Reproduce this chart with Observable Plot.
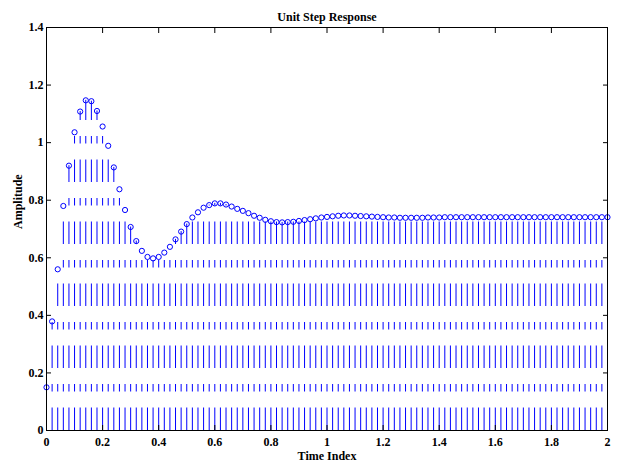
<!DOCTYPE html>
<html>
<head>
<meta charset="utf-8">
<script src="https://cdn.jsdelivr.net/npm/d3@7"></script>
<script src="https://cdn.jsdelivr.net/npm/@observablehq/plot@0.6"></script>
<style>
  html, body { margin: 0; padding: 0; background: #fff; }
  #chart svg text { font-family: 'Liberation Serif', 'Times New Roman', serif; font-weight: bold; font-variant-numeric: normal; }
</style>
</head>
<body>
<div id="chart"></div>
<script>
const title = "Unit Step Response";
const xLabel = "Time Index";
const yLabel = "Amplitude";

const xTicks = [0, 0.2, 0.4, 0.6, 0.8, 1, 1.2, 1.4, 1.6, 1.8, 2];
const yTicks = [0, 0.2, 0.4, 0.6, 0.8, 1, 1.2, 1.4];

const timeStep = 0.02;
const amplitude = [
  0.150, 0.379, 0.560, 0.780, 0.920, 1.036, 1.108, 1.147, 1.144, 1.110,
  1.056, 0.989, 0.914, 0.838, 0.766, 0.707, 0.658, 0.624, 0.603, 0.598,
  0.603, 0.618, 0.638, 0.664, 0.691, 0.717, 0.740, 0.758, 0.774, 0.783,
  0.789, 0.789, 0.785, 0.778, 0.770, 0.763, 0.755, 0.746, 0.739, 0.732,
  0.727, 0.724, 0.723, 0.724, 0.725, 0.728, 0.731, 0.734, 0.737, 0.740,
  0.742, 0.744, 0.746, 0.747, 0.747, 0.746, 0.745, 0.744, 0.743, 0.742,
  0.741, 0.740, 0.740, 0.739, 0.739, 0.739, 0.739, 0.739, 0.740, 0.740,
  0.740, 0.741, 0.741, 0.741, 0.741, 0.741, 0.741, 0.741, 0.741, 0.741,
  0.741, 0.741, 0.741, 0.741, 0.741, 0.741, 0.741, 0.741, 0.741, 0.741,
  0.741, 0.741, 0.741, 0.741, 0.741, 0.741, 0.741, 0.741, 0.741, 0.741,
  0.741
];

const data = amplitude.map((v, i) => ({t: +(i * timeStep).toFixed(2), v}));
const fmt = d => `${+d.toFixed(2)}`;

const chart = Plot.plot({
  width: 621,
  height: 463,
  marginLeft: 46,
  marginRight: 14,
  marginTop: 27,
  marginBottom: 33,
  style: {fontFamily: "'Liberation Serif', 'Times New Roman', serif", fontSize: "12px", fontWeight: "bold", background: "#fff", color: "#000"},
  x: {domain: [0, 2]},
  y: {domain: [0, 1.4]},
  marks: [
    Plot.ruleX(data, {x: "t", y1: 0, y2: "v", stroke: "#0000ff", strokeWidth: 1, strokeDasharray: "22.5,16,7.5,16"}),
    Plot.dot(data, {x: "t", y: "v", r: 2.6, stroke: "#0000ff", strokeWidth: 1, fill: "none"}),
    Plot.frame({stroke: "#000", strokeWidth: 1}),
    Plot.axisX({anchor: "bottom", ticks: xTicks, tickSize: -5, tickPadding: 12, tickFormat: fmt, label: null, fontSize: 12}),
    Plot.axisX({anchor: "top", ticks: xTicks, tickSize: -5, tickFormat: () => "", label: null}),
    Plot.axisY({anchor: "left", ticks: yTicks, tickSize: -5, tickPadding: 8, tickFormat: fmt, label: null, fontSize: 12}),
    Plot.axisY({anchor: "right", ticks: yTicks, tickSize: -5, tickFormat: () => "", label: null}),
    Plot.text([title], {frameAnchor: "top", dy: -15, text: d => d, fontWeight: "bold", fontSize: 12}),
    Plot.text([xLabel], {frameAnchor: "bottom", dy: 26, lineAnchor: "middle", text: d => d, fontWeight: "bold", fontSize: 12}),
    Plot.text([yLabel], {frameAnchor: "left", dx: -28, rotate: -90, text: d => d, fontWeight: "bold", fontSize: 12})
  ]
});
document.getElementById("chart").appendChild(chart);
</script>
</body>
</html>
